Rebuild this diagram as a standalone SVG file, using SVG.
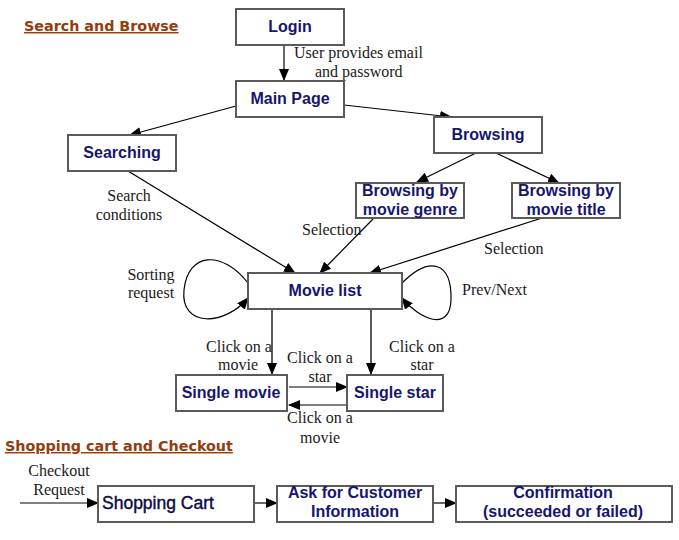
<svg xmlns="http://www.w3.org/2000/svg" width="679" height="540" viewBox="0 0 679 540">
<style>
.box{fill:#fff;stroke:#5a5a5a;stroke-width:2}
.nt{font-family:"Liberation Sans",Arial,sans-serif;font-weight:bold;font-size:16px;fill:#16166e;text-anchor:middle}
.lb{font-family:"Liberation Serif","Times New Roman",serif;font-size:16px;fill:#1a1a1a}
.ttl{font-family:"DejaVu Sans",Verdana,sans-serif;font-weight:bold;font-size:14.3px;fill:#963c0c;text-decoration:underline}
.ln{fill:none;stroke:#000;stroke-width:1.2}
.gl{fill:none;stroke:#5a5a5a;stroke-width:2}
</style>
<defs>
<marker id="ah" markerUnits="userSpaceOnUse" markerWidth="12" markerHeight="10" refX="11" refY="5" orient="auto">
<path d="M0,0 L12,5 L0,10 Z" fill="#000"/>
</marker>
</defs>
<text class="ttl" x="24" y="31">Search and Browse</text>
<text class="ttl" x="5" y="451">Shopping cart and Checkout</text>
<g id="connectors">
<line class="ln" x1="284" y1="45" x2="284" y2="80" marker-end="url(#ah)"/>
<line class="ln" x1="236" y1="106" x2="130" y2="135" marker-end="url(#ah)"/>
<line class="ln" x1="344" y1="105" x2="451" y2="117" marker-end="url(#ah)"/>
<line class="ln" x1="476" y1="153" x2="417" y2="182" marker-end="url(#ah)"/>
<line class="ln" x1="496" y1="153" x2="559" y2="183" marker-end="url(#ah)"/>
<line class="ln" x1="128" y1="171" x2="295" y2="273" marker-end="url(#ah)"/>
<line class="ln" x1="373" y1="219" x2="320" y2="273" marker-end="url(#ah)"/>
<line class="ln" x1="542" y1="218" x2="370" y2="273" marker-end="url(#ah)"/>
<path class="ln" d="M248,283 C222,250 188,252 184,290 C180,328 225,326 248,298" marker-end="url(#ah)"/>
<path class="ln" d="M402,283 C430,255 452,262 451,300 C450,332 420,320 402,298" marker-end="url(#ah)"/>
<line class="gl" x1="272" y1="309" x2="272" y2="374" marker-end="url(#ah)"/>
<line class="gl" x1="371" y1="309" x2="371" y2="374" marker-end="url(#ah)"/>
<line class="ln" x1="289" y1="387" x2="347" y2="387" marker-end="url(#ah)"/>
<line class="ln" x1="347" y1="405" x2="289" y2="405" marker-end="url(#ah)"/>
<line class="ln" x1="20" y1="503" x2="98" y2="503" marker-end="url(#ah)"/>
<line class="ln" x1="254" y1="503" x2="277" y2="503" marker-end="url(#ah)"/>
<line class="ln" x1="433" y1="503" x2="456" y2="503" marker-end="url(#ah)"/>
</g>
<g id="labels">
<text class="lb" x="294" y="58">User provides email</text>
<text class="lb" x="315" y="77">and password</text>
<text class="lb" x="129" y="201" text-anchor="middle">Search</text>
<text class="lb" x="129" y="220" text-anchor="middle">conditions</text>
<text class="lb" x="302" y="235">Selection</text>
<text class="lb" x="484" y="254">Selection</text>
<text class="lb" x="151" y="280" text-anchor="middle">Sorting</text>
<text class="lb" x="151" y="298" text-anchor="middle">request</text>
<text class="lb" x="462" y="295">Prev/Next</text>
<text class="lb" x="239" y="352" text-anchor="middle">Click on a</text>
<text class="lb" x="238" y="370" text-anchor="middle">movie</text>
<text class="lb" x="320" y="363" text-anchor="middle">Click on a</text>
<text class="lb" x="320" y="382" text-anchor="middle">star</text>
<text class="lb" x="422" y="352" text-anchor="middle">Click on a</text>
<text class="lb" x="422" y="370" text-anchor="middle">star</text>
<text class="lb" x="320" y="423" text-anchor="middle">Click on a</text>
<text class="lb" x="320" y="443" text-anchor="middle">movie</text>
<text class="lb" x="59" y="476" text-anchor="middle">Checkout</text>
<text class="lb" x="59" y="495" text-anchor="middle">Request</text>
</g>
<g id="login"><rect class="box" x="236" y="9" width="108" height="36"/><text class="nt" x="290" y="32">Login</text></g>
<g id="mainpage"><rect class="box" x="236" y="81" width="108" height="36"/><text class="nt" x="290" y="104">Main Page</text></g>
<g id="searching"><rect class="box" x="68" y="135" width="108" height="36"/><text class="nt" x="122" y="158">Searching</text></g>
<g id="browsing"><rect class="box" x="434" y="117" width="108" height="36"/><text class="nt" x="488" y="140">Browsing</text></g>
<g id="genre"><rect class="box" x="356" y="183" width="108" height="35"/><text class="nt" x="410" y="196">Browsing by</text><text class="nt" x="410" y="215">movie genre</text></g>
<g id="title"><rect class="box" x="512" y="183" width="108" height="35"/><text class="nt" x="566" y="196">Browsing by</text><text class="nt" x="566" y="215">movie title</text></g>
<g id="movielist"><rect class="box" x="248" y="273" width="154" height="36"/><text class="nt" x="325" y="296">Movie list</text></g>
<g id="singlemovie"><rect class="box" x="176" y="375" width="111" height="36"/><text class="nt" x="231" y="398">Single movie</text></g>
<g id="singlestar"><rect class="box" x="347" y="375" width="96" height="36"/><text class="nt" x="395" y="398">Single star</text></g>
<g id="cart"><rect class="box" x="98" y="486" width="156" height="36"/><text x="102" y="509" style="font-family:'Liberation Sans',Arial,sans-serif;font-size:17.5px;fill:#0a0a45;stroke:#0a0a45;stroke-width:0.4">Shopping Cart</text></g>
<g id="askinfo"><rect class="box" x="277" y="486" width="156" height="36"/><text class="nt" x="355" y="498">Ask for Customer</text><text class="nt" x="355" y="517">Information</text></g>
<g id="confirm"><rect class="box" x="456" y="486" width="216" height="36"/><text class="nt" x="563" y="498">Confirmation</text><text class="nt" x="563" y="517">(succeeded or failed)</text></g>
</svg>
